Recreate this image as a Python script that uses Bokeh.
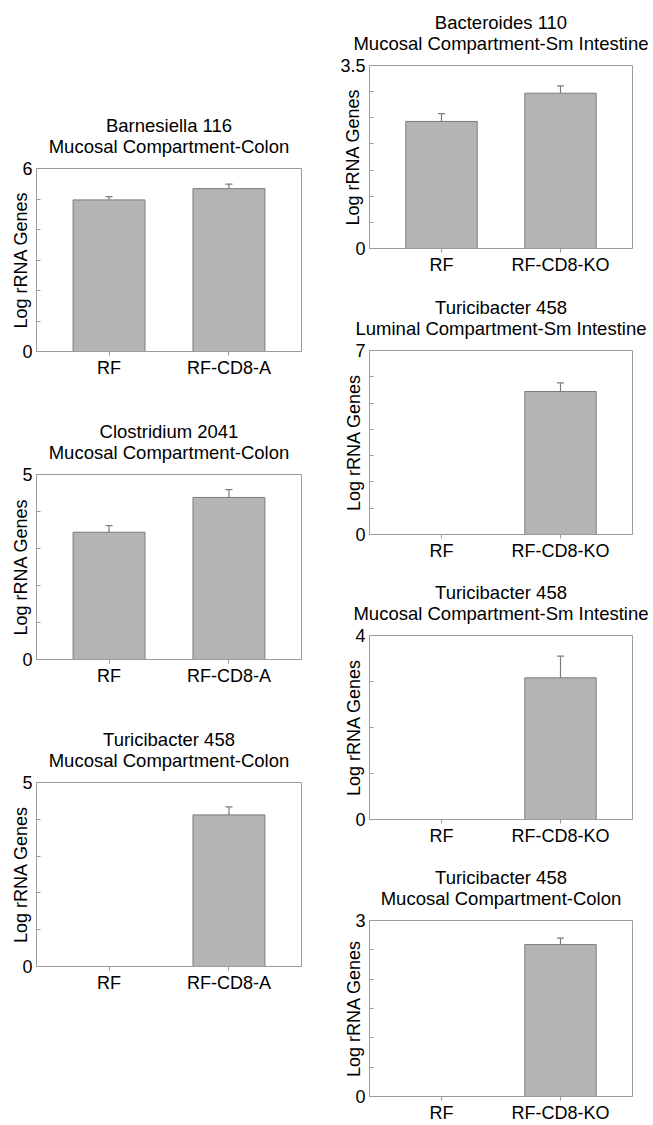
from bokeh.plotting import figure
from bokeh.models import (FactorRange, Range1d, FixedTicker, Whisker, TeeHead,
                          ColumnDataSource, Spacer, Title)
from bokeh.layouts import row, column
from bokeh.embed import file_html
from bokeh.resources import INLINE

# ---------------- data ----------------
barn_title = ["Barnesiella 116", "Mucosal Compartment-Colon"]
barn_groups = ["RF", "RF-CD8-A"]
barn_means = [4.97, 5.34]
barn_errs = [0.11, 0.15]
barn_ymax, barn_step, barn_top_label = 6, 1, "6"

clos_title = ["Clostridium 2041", "Mucosal Compartment-Colon"]
clos_groups = ["RF", "RF-CD8-A"]
clos_means = [3.44, 4.38]
clos_errs = [0.18, 0.21]
clos_ymax, clos_step, clos_top_label = 5, 1, "5"

turc_a_title = ["Turicibacter 458", "Mucosal Compartment-Colon"]
turc_a_groups = ["RF", "RF-CD8-A"]
turc_a_means = [0.0, 4.12]
turc_a_errs = [0.0, 0.22]
turc_a_ymax, turc_a_step, turc_a_top_label = 5, 1, "5"

bact_title = ["Bacteroides 110", "Mucosal Compartment-Sm Intestine"]
bact_groups = ["RF", "RF-CD8-KO"]
bact_means = [2.43, 2.97]
bact_errs = [0.15, 0.14]
bact_ymax, bact_step, bact_top_label = 3.5, 0.5, "3.5"

turl_title = ["Turicibacter 458", "Luminal Compartment-Sm Intestine"]
turl_groups = ["RF", "RF-CD8-KO"]
turl_means = [0.0, 5.44]
turl_errs = [0.0, 0.33]
turl_ymax, turl_step, turl_top_label = 7, 1, "7"

turm_title = ["Turicibacter 458", "Mucosal Compartment-Sm Intestine"]
turm_groups = ["RF", "RF-CD8-KO"]
turm_means = [0.0, 3.08]
turm_errs = [0.0, 0.47]
turm_ymax, turm_step, turm_top_label = 4, 1, "4"

turc_k_title = ["Turicibacter 458", "Mucosal Compartment-Colon"]
turc_k_groups = ["RF", "RF-CD8-KO"]
turc_k_means = [0.0, 2.59]
turc_k_errs = [0.0, 0.11]
turc_k_ymax, turc_k_step, turc_k_top_label = 3, 0.5, "3"

# ---------------- style ----------------
FONT = "Liberation Sans"
FS = "18px"
TFS = "18.5px"
BAR_FILL = "#b4b4b4"
BAR_LINE = "#7c7c7c"
FRAME = "#9c9c9c"


def panel(title_lines, groups, means, errs, ymax, step, top_label,
          width, height, mbl, mbr, mbt, mbb, yl_standoff):
    p = figure(width=width, height=height, output_backend="svg",
               toolbar_location=None, title=None,
               x_range=FactorRange(factors=groups, range_padding=0.105),
               y_range=Range1d(0, ymax),
               min_border_left=mbl, min_border_right=mbr,
               min_border_top=mbt, min_border_bottom=mbb)
    # two-line title, each line centred over the frame (closest line first)
    for txt, so in ((title_lines[1], 23), (title_lines[0], -26)):
        p.add_layout(Title(text=txt, align="center", text_font=FONT,
                           text_font_size=TFS, text_font_style="normal",
                           text_color="black", standoff=so), "above")

    p.xgrid.visible = False
    p.ygrid.visible = False
    p.outline_line_color = FRAME
    p.outline_line_width = 1

    # bars (zero-height ones show nothing in the original)
    keep = [i for i, m in enumerate(means) if m > 0]
    src = ColumnDataSource(dict(
        x=[groups[i] for i in keep],
        top=[means[i] for i in keep],
        upper=[means[i] + errs[i] for i in keep],
    ))
    p.vbar(x="x", top="top", bottom=0, width=0.6, source=src,
           fill_color=BAR_FILL, line_color=BAR_LINE, line_width=1)
    w = Whisker(base="x", lower="top", upper="upper", source=src,
                line_color=BAR_LINE, line_width=1.2,
                upper_head=TeeHead(size=7, line_color=BAR_LINE, line_width=1.2),
                lower_head=None)
    p.add_layout(w)

    # y axis
    n = int(round(ymax / step))
    ticks = [k * step for k in range(n + 1)]
    p.yaxis.ticker = FixedTicker(ticks=ticks)
    overrides = {t: "" for t in ticks}
    overrides[0] = "0"
    overrides[ticks[-1]] = top_label
    p.yaxis.major_label_overrides = overrides
    p.yaxis.minor_tick_line_color = None
    p.yaxis.major_tick_in = 4
    p.yaxis.major_tick_out = 0
    p.yaxis.major_label_standoff = 4
    p.yaxis.axis_line_color = FRAME
    p.yaxis.major_tick_line_color = FRAME
    p.yaxis.major_label_text_font = FONT
    p.yaxis.major_label_text_font_size = FS
    p.yaxis.major_label_text_color = "black"
    p.yaxis.axis_label = "Log rRNA Genes"
    p.yaxis.axis_label_text_font = FONT
    p.yaxis.axis_label_text_font_size = FS
    p.yaxis.axis_label_text_font_style = "normal"
    p.yaxis.axis_label_text_color = "black"
    p.yaxis.axis_label_standoff = yl_standoff

    # x axis
    p.xaxis.major_tick_in = 0
    p.xaxis.major_tick_out = 4
    p.xaxis.major_label_standoff = 2
    p.xaxis.axis_line_color = FRAME
    p.xaxis.major_tick_line_color = FRAME
    p.xaxis.major_label_text_font = FONT
    p.xaxis.major_label_text_font_size = FS
    p.xaxis.major_label_text_color = "black"
    p.xaxis.major_label_orientation = "horizontal"
    return p


LW, LMBL, LMBR = 322, 27, 29
RW, RMBL, RMBR = 322, 39, 20

f1 = panel(barn_title, barn_groups, barn_means, barn_errs, barn_ymax, barn_step,
           barn_top_label, LW, 280, LMBL, LMBR, 68, 28, -12)
f3 = panel(clos_title, clos_groups, clos_means, clos_errs, clos_ymax, clos_step,
           clos_top_label, LW, 310, LMBL, LMBR, 94, 31, -12)
f4 = panel(turc_a_title, turc_a_groups, turc_a_means, turc_a_errs, turc_a_ymax,
           turc_a_step, turc_a_top_label, LW, 310, LMBL, LMBR, 92, 34, -12)

f2 = panel(bact_title, bact_groups, bact_means, bact_errs, bact_ymax, bact_step,
           bact_top_label, RW, 274, RMBL, RMBR, 57, 34, -26)
f5 = panel(turl_title, turl_groups, turl_means, turl_errs, turl_ymax, turl_step,
           turl_top_label, RW, 288, RMBL, RMBR, 68, 36, -12)
f6 = panel(turm_title, turm_groups, turm_means, turm_errs, turm_ymax, turm_step,
           turm_top_label, RW, 280, RMBL, RMBR, 65, 31, -12)
f7 = panel(turc_k_title, turc_k_groups, turc_k_means, turc_k_errs, turc_k_ymax,
           turc_k_step, turc_k_top_label, RW, 275, RMBL, RMBR, 70, 27, -12)

left = column(Spacer(width=LW, height=100), f1, f3, f4, spacing=0)
right = column(Spacer(width=RW, height=8), f2, f5, f6, f7, spacing=0)
layout = row(Spacer(width=8, height=8), left, right, spacing=0)

open("out.html", "w").write(file_html(layout, INLINE))
